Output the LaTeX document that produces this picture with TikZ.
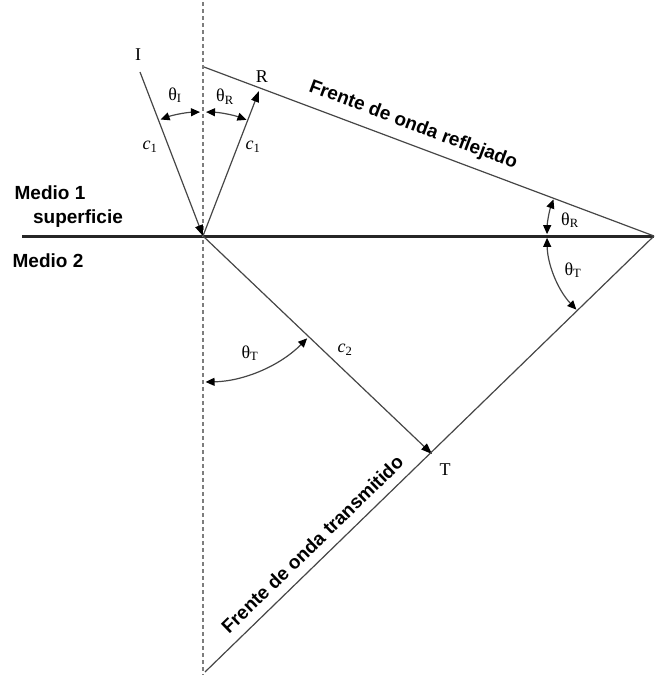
\documentclass[tikz,border=0pt]{standalone}
\usepackage{fontspec}
\setmainfont{Liberation Serif}
\newfontfamily\mediumfont{Liberation Sans}
\usetikzlibrary{arrows.meta, positioning, calc}
\definecolor{raygray}{RGB}{70,70,70}
\definecolor{dashgray}{RGB}{125,125,125}
\newcommand{\angl}[1]{θ\textsubscript{#1}}
\newcommand{\speed}[1]{\textit{c}\textsubscript{#1}}

\begin{document}
\begin{tikzpicture}[
        x=1pt, y=-1pt,
        ray/.style={draw=raygray, line width=1.2pt, -{Triangle[length=11pt, width=8pt, color=black]}},
        front/.style={draw=raygray, line width=1.2pt},
        normalline/.style={draw=dashgray, line width=1.5pt, dash pattern=on 4pt off 3pt},
        surf/.style={draw=black!85, line width=3pt},
        angarrow/.style={draw=raygray, line width=1.2pt, {Triangle[length=9pt, width=8pt, color=black]}-{Triangle[length=9pt, width=8pt, color=black]}},
        sym/.style={font=\fontsize{18}{20}\selectfont, inner sep=1pt},
        medium/.style={font=\mediumfont\bfseries\fontsize{19}{22}\selectfont, inner sep=0pt},
        frontlabel/.style={font=\mediumfont\bfseries\fontsize{19}{22}\selectfont, sloped, above=6pt}
    ]
        \useasboundingbox (0,0) rectangle (654,675);

        % main points
        \coordinate (O) at (203,236);
        \coordinate (Itop) at (140,72);
        \coordinate (Rtip) at (259,91);
        \coordinate (Ttip) at (432,454);
        \coordinate (V) at (654,236);
        \coordinate (Rstart) at (204,67);
        \coordinate (Tstart) at (205,672);
        \coordinate (Ntop) at (203,2);
        \coordinate (Nbot) at (203,675);
        \coordinate (Sleft) at (22,236);

        \draw[surf] (Sleft) -- (V);
        \draw[normalline] (Ntop) -- (Nbot);

        % rays
        \draw[ray] (Itop) -- (O);
        \draw[ray] (O) -- (Rtip);
        \draw[ray] (O) -- (Ttip);

        % wave fronts
        \draw[front] (Rstart) -- node[frontlabel, pos=.45] {Frente de onda reflejado} (V);
        \draw[front] (Tstart) -- node[frontlabel, pos=.265] {Frente de onda transmitido} (V);

        % angles
        \draw[angarrow] ([shift={(250:124)}]O) arc[start angle=250, end angle=268.6, radius=124];
        \draw[angarrow] ([shift={(271.4:124)}]O) arc[start angle=271.4, end angle=290.5, radius=124];
        \draw[angarrow] ([shift={(44.5:146)}]O) arc[start angle=44.5, end angle=89, radius=146];
        \draw[angarrow] ([shift={(181:107)}]V) arc[start angle=181, end angle=200, radius=107];
        \draw[angarrow] ([shift={(136.5:107)}]V) arc[start angle=136.5, end angle=179, radius=107];

        % labels
        \node[sym] (lblI) at (138,55) {I};
        \node[sym] (lblR) at (262,77) {R};
        \node[sym] (lblT) at (445,470) {T};
        \node[sym] (angI) at (175,95) {\angl{I}};
        \node[sym] (angR) at (225,97) {\angl{R}};
        \node[sym] (speedI) at (150,147) {\speed{1}};
        \node[sym] (speedR) at (253,147) {\speed{1}};
        \node[sym] (angT) at (250,353) {\angl{T}};
        \node[sym] (speedT) at (345,350) {\speed{2}};
        \node[sym] (angRfront) at (570,220) {\angl{R}};
        \node[sym] (angTfront) at (573,270) {\angl{T}};

        \node[medium] (medOne) at (50,193) {Medio 1};
        \node[medium] (surfLbl) at (78,219) {superficie};
        \node[medium] (medTwo) at (48,261) {Medio 2};
    \end{tikzpicture}
\end{document}
